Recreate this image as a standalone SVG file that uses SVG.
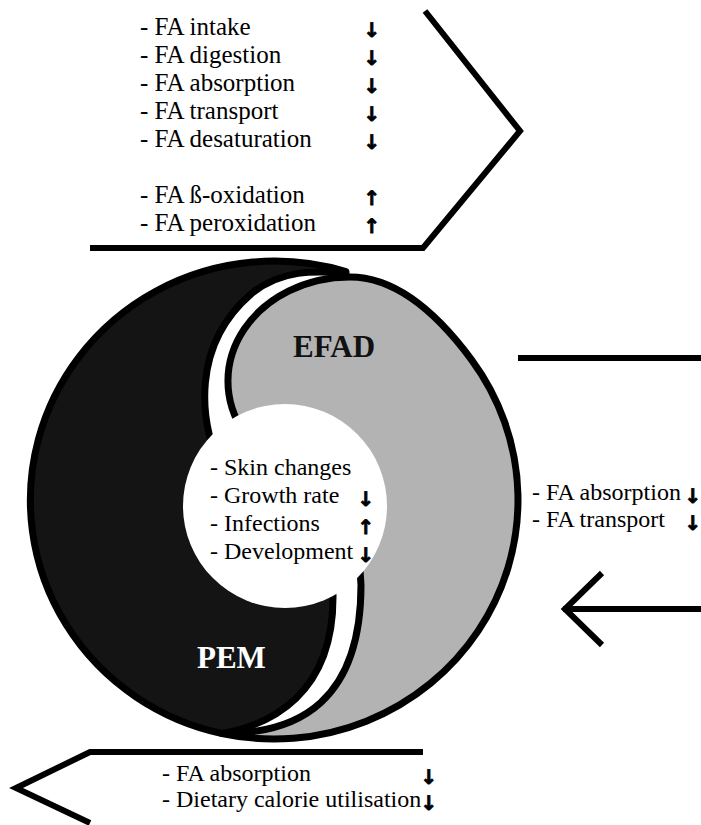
<svg xmlns="http://www.w3.org/2000/svg" width="701" height="825" viewBox="0 0 701 825">
<style>
.t{font-family:"Liberation Serif","Times New Roman",serif;font-size:24px;fill:#000}
.tt{font-size:25px}
.ar{font-family:"DejaVu Sans",sans-serif;font-weight:bold;font-size:20px;fill:#000;stroke:#000;stroke-width:0.8;text-anchor:middle}
.lbl{font-family:"Liberation Serif","Times New Roman",serif;font-weight:bold;font-size:31px}
.ln{fill:none;stroke:#000;stroke-width:6;stroke-linejoin:miter}
.sh{stroke:#000;stroke-width:7;stroke-linejoin:round}
</style>
<rect width="701" height="825" fill="#fff"/>
<g id="connectors">
  <polyline class="ln" points="90,248 423,248 520,131 425,11"/>
  <line class="ln" x1="518" y1="358" x2="701" y2="358"/>
  <line class="ln" x1="563" y1="609" x2="701" y2="609"/>
  <polyline class="ln" points="602,573 565,609 602,645"/>
  <polyline class="ln" points="423,752 90,752 16,788 90,823"/>
</g>
<g id="efad">
  <path class="sh" fill="#b3b3b3" d="M 244.3 433 A 122 104 0 0 1 350 277 C 400 277, 441.9 319.6, 471.6 359.8 A 244 239 0 0 1 222 733.5 C 300 734, 361 700, 361 585 L 359 555 Z"/>
  <text class="lbl" x="293" y="357" fill="#111">EFAD</text>
</g>
<g id="pem">
  <path class="sh" fill="#141414" d="M 346 271.6 A 244 239 0 1 0 222 733.5 C 270 725, 334 695, 333 595 L 330 570 L 222 470 C 198 420, 192 345, 251 294 C 281 269, 315 271, 346 273 Z"/>
  <text class="lbl" x="197" y="668" fill="#fff">PEM</text>
</g>
<g id="effects">
  <circle cx="285" cy="506" r="102" fill="#fff"/>
  <text class="t" x="210" y="475">- Skin changes</text>
  <text class="t" x="210" y="503">- Growth rate</text>
  <text class="t" x="210" y="531">- Infections</text>
  <text class="t" x="210" y="559">- Development</text>
  <text class="ar" x="366" y="506">↓</text>
  <text class="ar" x="366" y="534">↑</text>
  <text class="ar" x="366" y="562">↓</text>
</g>
<g id="pem-causes">
  <text class="t tt" x="140" y="35">- FA intake</text>
  <text class="t tt" x="140" y="63">- FA digestion</text>
  <text class="t tt" x="140" y="91">- FA absorption</text>
  <text class="t tt" x="140" y="119">- FA transport</text>
  <text class="t tt" x="140" y="147">- FA desaturation</text>
  <text class="t tt" x="140" y="203">- FA ß-oxidation</text>
  <text class="t tt" x="140" y="231">- FA peroxidation</text>
  <text class="ar" x="372" y="37">↓</text>
  <text class="ar" x="372" y="65">↓</text>
  <text class="ar" x="372" y="93">↓</text>
  <text class="ar" x="372" y="121">↓</text>
  <text class="ar" x="372" y="149">↓</text>
  <text class="ar" x="372" y="205">↑</text>
  <text class="ar" x="372" y="233">↑</text>
</g>
<g id="right-list">
  <text class="t" x="532" y="500">- FA absorption</text>
  <text class="t" x="532" y="527">- FA transport</text>
  <text class="ar" x="693" y="503">↓</text>
  <text class="ar" x="693" y="530">↓</text>
</g>
<g id="bottom-list">
  <text class="t" x="162" y="781">- FA absorption</text>
  <text class="t" x="162" y="807">- Dietary calorie utilisation</text>
  <text class="ar" x="429" y="784">↓</text>
  <text class="ar" x="429" y="810">↓</text>
</g>
</svg>
